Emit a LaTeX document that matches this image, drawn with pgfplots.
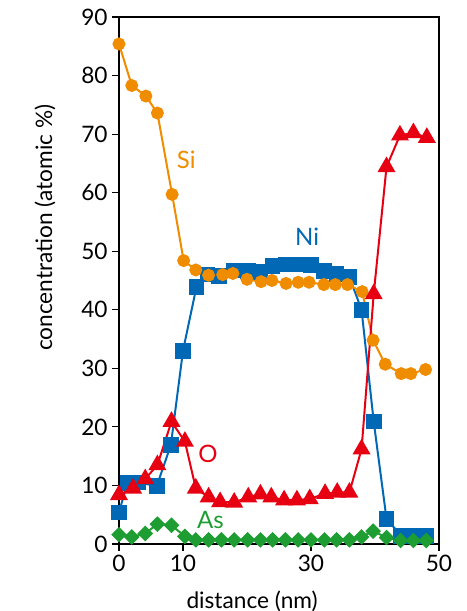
\documentclass[border=0pt]{standalone}
\usepackage{pgfplots}
\pgfplotsset{compat=1.18}
\usepackage{fontspec}
\setmainfont{Lato}
\definecolor{siC}{RGB}{240,140,0}
\definecolor{niC}{RGB}{0,104,180}
\definecolor{oC}{RGB}{230,0,18}
\definecolor{asC}{RGB}{30,158,50}
\begin{document}
\begin{tikzpicture}
\path[use as bounding box] (-89.25pt,-50.25pt) rectangle (261pt,408pt);
\begin{axis}[
  at={(0,0)}, anchor=south west,
  scale only axis, width=240pt, height=395.25pt,
  xmin=0, xmax=50, ymin=0, ymax=90,
  xtick={0,10,30,50}, ytick={0,10,...,90},
  tick align=outside, tick pos=left,
  major tick length=5pt,
  clip=false,
  axis line style={line width=0.8pt},
  tick style={line width=0.8pt, black},
  /pgf/number format/assume math mode=true,
  ticklabel style={font=\fontsize{17}{20}\selectfont},
  label style={font=\fontsize{17}{20}\selectfont},
  xlabel={distance (nm)},
  ylabel={concentration (atomic \%)},
  x label style={at={(axis description cs:0.416,-0.108)}, anchor=center},
  y label style={at={(axis description cs:-0.231,0.6)}, anchor=center, rotate=0},
]
\addplot[niC, line width=1.5pt, mark=square*, mark size=5.1pt, mark options={solid}] coordinates {
(0,5.4)(1.3,10.4)(3.0,10.5)(5.9,9.9)(8.1,16.9)(10.0,33.0)(12.1,43.9)(13.8,46.0)(15.6,45.8)(17.9,46.7)(20.2,46.6)(22.0,46.5)(24.0,47.5)(26.0,47.7)(28.0,47.7)(30.0,47.6)(32.0,46.6)(34.0,46.1)(36.0,45.6)(37.9,40.0)(39.8,20.9)(41.8,4.3)(44.1,1.4)(46.0,1.4)(48.0,1.4)};
\addplot[siC, line width=1.5pt, mark=*, mark size=4.1pt] coordinates {
(0,85.4)(2.0,78.3)(4.2,76.5)(6.0,73.6)(8.3,59.7)(10.1,48.4)(12.0,46.8)(14.0,45.9)(16.2,46.0)(17.8,46.2)(20.0,45.2)(22.2,44.8)(23.9,45.0)(26.1,44.5)(28.0,44.7)(29.7,44.7)(32.0,44.3)(33.8,44.3)(35.7,44.3)(38.0,43.1)(39.7,34.8)(41.6,30.7)(44.1,29.1)(45.6,29.1)(47.9,29.8)};
\addplot[oC, line width=1.5pt, mark=triangle*, mark size=6.3pt] coordinates {
(0,8.4)(2.2,9.5)(4.1,11.1)(6.0,13.5)(8.2,20.9)(10.3,17.5)(12.0,9.5)(14.0,8.0)(15.8,7.2)(18.0,7.1)(20.2,8.0)(22.1,8.5)(23.8,8.0)(25.8,7.5)(27.8,7.5)(29.8,7.7)(32.2,8.6)(34.1,8.8)(36.0,8.8)(37.9,16.2)(39.8,42.7)(41.8,64.4)(43.9,69.8)(46.0,70.2)(48.1,69.4)};
\addplot[asC, line width=1.5pt, mark=square*, mark size=3.4pt, mark options={rotate=45}] coordinates {
(0,1.6)(2.0,1.2)(4.1,1.8)(6.0,3.4)(8.2,3.2)(10.3,1.3)(12.0,0.7)(14.0,0.7)(16.0,0.7)(18.0,0.7)(20.1,0.7)(22.1,0.7)(24.0,0.7)(26.0,0.7)(28.0,0.7)(30.0,0.7)(32.1,0.7)(34.0,0.7)(36.0,0.7)(37.9,1.2)(39.7,2.2)(41.8,1.1)(44.0,0.6)(46.0,0.6)(48.0,0.6)};
\node[siC, font=\fontsize{18}{21}\selectfont] at (axis cs:10.5,65.6) {Si};
\node[niC, font=\fontsize{18}{21}\selectfont] at (axis cs:29.4,52.4) {Ni};
\node[oC, font=\fontsize{18}{21}\selectfont] at (axis cs:13.9,15.4) {O};
\node[asC, font=\fontsize{18}{21}\selectfont] at (axis cs:14.3,4.1) {As};
\end{axis}
\end{tikzpicture}
\end{document}
